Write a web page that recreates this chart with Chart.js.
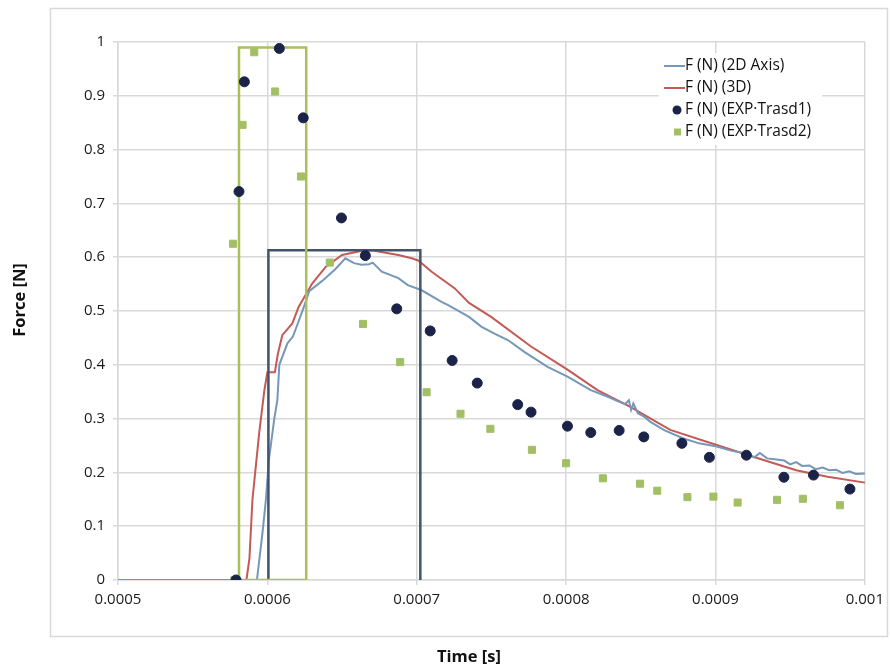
<!DOCTYPE html>
<html>
<head>
<meta charset="utf-8">
<script src="https://cdn.jsdelivr.net/npm/chart.js@4.4.1/dist/chart.umd.min.js"></script>
<style>
  html, body { margin: 0; padding: 0; background: #fff; }
</style>
</head>
<body>
<canvas id="myChart" width="890" height="670"></canvas>
<script>
// simulated 2D axisymmetric force
const time2D = [0.0005, 0.000593, 0.0005967, 0.000599, 0.000601, 0.0006045, 0.0006067, 0.000608, 0.0006134, 0.000617,
  0.00062, 0.0006245, 0.000628, 0.0006367, 0.0006456, 0.0006522, 0.000658, 0.000663, 0.000668, 0.0006705,
  0.0006766, 0.0006877, 0.000694, 0.000703, 0.0007166, 0.000721, 0.000735, 0.0007432, 0.000752, 0.000761,
  0.000772, 0.0007876, 0.0008009, 0.0008165, 0.0008276, 0.000834, 0.0008395, 0.000842, 0.0008435, 0.000845,
  0.000848, 0.000852, 0.0008564, 0.000866, 0.0008786, 0.000889, 0.0009008, 0.000911, 0.000921, 0.000926,
  0.0009297, 0.0009345, 0.0009407, 0.000946, 0.00095, 0.000954, 0.000958, 0.0009629, 0.000967, 0.0009718,
  0.000976, 0.0009807, 0.000985, 0.0009896, 0.000994, 0.001];
const force2D = [0, 0, 0.087, 0.149, 0.223, 0.297, 0.335, 0.40, 0.44, 0.452,
  0.474, 0.508, 0.537, 0.556, 0.578, 0.598, 0.589, 0.586, 0.587, 0.59,
  0.573, 0.561, 0.548, 0.539, 0.517, 0.511, 0.489, 0.471, 0.458, 0.446,
  0.424, 0.396, 0.378, 0.353, 0.341, 0.333, 0.327, 0.334, 0.316, 0.328,
  0.31, 0.304, 0.294, 0.278, 0.263, 0.254, 0.248, 0.24, 0.235, 0.228,
  0.236, 0.226, 0.224, 0.222, 0.215, 0.219, 0.212, 0.213, 0.206, 0.209,
  0.204, 0.205, 0.199, 0.202, 0.197, 0.198];

// simulated 3D force
const time3D = [0.0005, 0.000586, 0.000588, 0.00059, 0.0005945, 0.000598, 0.0006, 0.000605, 0.000607, 0.00061,
  0.0006167, 0.000621, 0.00063, 0.000639, 0.00065, 0.0006633, 0.00067, 0.00068, 0.0006877, 0.0006966,
  0.000701, 0.00071, 0.0007255, 0.000735, 0.0007498, 0.0007765, 0.0008009, 0.000821, 0.000843, 0.000854,
  0.0008697, 0.0009008, 0.0009252, 0.000954, 0.000975, 0.001];
const force3D = [0, 0, 0.04, 0.149, 0.273, 0.353, 0.386, 0.386, 0.42, 0.455,
  0.477, 0.508, 0.551, 0.582, 0.604, 0.612, 0.613, 0.608, 0.604, 0.598,
  0.594, 0.573, 0.542, 0.515, 0.489, 0.434, 0.391, 0.353, 0.322, 0.304,
  0.279, 0.251, 0.229, 0.204, 0.192, 0.181];

// experiment, transducer 1
const timeTrasd1 = [0.000579, 0.000581, 0.0005846, 0.000608, 0.000624, 0.0006496, 0.0006656, 0.0006866, 0.000709, 0.0007237,
  0.0007405, 0.0007676, 0.0007765, 0.0008009, 0.0008165, 0.0008355, 0.000852, 0.0008775, 0.0008959, 0.0009207,
  0.0009458, 0.0009656, 0.00099];
const forceTrasd1 = [0, 0.722, 0.926, 0.988, 0.859, 0.673, 0.603, 0.504, 0.463, 0.408,
  0.366, 0.326, 0.312, 0.286, 0.274, 0.278, 0.266, 0.254, 0.228, 0.232,
  0.191, 0.195, 0.169];

// experiment, transducer 2
const timeTrasd2 = [0.000578, 0.000577, 0.0005834, 0.0005912, 0.0006052, 0.0006225, 0.0006418, 0.000664, 0.0006889, 0.0007066,
  0.0007293, 0.0007493, 0.0007771, 0.0008, 0.0008246, 0.0008495, 0.000861, 0.0008812, 0.0008986, 0.0009148,
  0.0009412, 0.0009585, 0.0009833];
const forceTrasd2 = [0, 0.625, 0.846, 0.981, 0.908, 0.75, 0.59, 0.476, 0.405, 0.349,
  0.309, 0.281, 0.242, 0.217, 0.189, 0.179, 0.166, 0.154, 0.155, 0.144,
  0.149, 0.151, 0.139];

// highlight boxes
const greenBoxTime = [0.000581, 0.000581, 0.000626, 0.000626, 0.000581];
const greenBoxForce = [0, 0.99, 0.99, 0, 0];
const navyBoxTime = [0.0006007, 0.0006007, 0.0007024, 0.0007024, 0.0006007];
const navyBoxForce = [-0.003, 0.613, 0.613, -0.003, -0.003];

const pts = (xs, ys) => xs.map((x, i) => ({ x: x, y: ys[i] }));

const FONT = '"Open Sans", sans-serif';

const framePlugin = {
  id: 'frame',
  beforeDraw(chart) {
    const c = chart.ctx;
    c.save();
    c.strokeStyle = '#d9d9d9';
    c.lineWidth = 1.5;
    c.strokeRect(50.5, 8.5, 837, 628);
    c.restore();
  },
  afterDraw(chart) {
    const c = chart.ctx;
    c.save();
    c.fillStyle = '#111';
    c.font = 'bold 16.5px ' + FONT;
    c.textAlign = 'center';
    c.textBaseline = 'middle';
    c.fillText('Time [s]', 469, 657);
    c.translate(20, 300);
    c.rotate(-Math.PI / 2);
    c.fillText('Force [N]', 0, 0);
    c.restore();

    // legend
    c.save();
    c.fillStyle = '#fff';
    c.fillRect(659, 53, 163, 92);
    c.font = '15.5px ' + FONT;
    c.textBaseline = 'middle';
    c.textAlign = 'left';
    let row = 0;
    chart.data.datasets.forEach(ds => {
      if (!ds.label) return;
      const y = 66 + row * 22;
      if (ds.showLine) {
        c.strokeStyle = ds.borderColor;
        c.lineWidth = 2;
        c.beginPath();
        c.moveTo(664, y);
        c.lineTo(685, y);
        c.stroke();
      } else if (ds.pointStyle === 'rect') {
        c.fillStyle = ds.backgroundColor;
        c.fillRect(674, y - 3.5, 7, 7);
      } else {
        c.fillStyle = ds.backgroundColor;
        c.beginPath();
        c.arc(677, y, 4.5, 0, Math.PI * 2);
        c.fill();
      }
      c.fillStyle = '#111';
      c.fillText(ds.label, 685, y);
      row++;
    });
    c.restore();
  }
};

new Chart(document.getElementById('myChart'), {
  type: 'scatter',
  data: {
    datasets: [
      {
        label: 'F (N) (2D Axis)',
        data: pts(time2D, force2D),
        showLine: true,
        borderColor: '#7697b8',
        borderWidth: 2,
        pointRadius: 0,
        order: 3
      },
      {
        label: 'F (N) (3D)',
        data: pts(time3D, force3D),
        showLine: true,
        borderColor: '#c45a55',
        borderWidth: 2,
        pointRadius: 0,
        order: 4
      },
      {
        label: 'F (N) (EXP·Trasd1)',
        data: pts(timeTrasd1, forceTrasd1),
        backgroundColor: '#1b2448',
        borderColor: '#1b2448',
        pointRadius: 5,
        order: 0
      },
      {
        label: 'F (N) (EXP·Trasd2)',
        data: pts(timeTrasd2, forceTrasd2),
        pointStyle: 'rect',
        backgroundColor: '#a3bf66',
        borderColor: '#a3bf66',
        pointRadius: 5,
        order: 1
      },
      {
        label: '',
        data: pts(greenBoxTime, greenBoxForce),
        showLine: true,
        borderColor: '#a9c05a',
        borderWidth: 2.5,
        pointRadius: 0,
        order: 2
      },
      {
        label: '',
        data: pts(navyBoxTime, navyBoxForce),
        showLine: true,
        borderColor: '#42546b',
        borderWidth: 2.5,
        pointRadius: 0,
        order: 2
      }
    ]
  },
  options: {
    responsive: false,
    animation: false,
    layout: { padding: { left: 0, right: 20, top: 42, bottom: 0 } },
    plugins: {
      legend: { display: false },
      tooltip: { enabled: false }
    },
    scales: {
      x: {
        type: 'linear',
        min: 0.0005,
        max: 0.001,
        afterFit: s => { s.height = 90; },
        ticks: {
          stepSize: 0.0001,
          color: '#1a1a1a',
          padding: 6,
          font: { family: FONT, size: 15 },
          callback: v => String(Number(v.toFixed(4)))
        },
        grid: { color: '#d9d9d9', lineWidth: 1.5, tickLength: 5 },
        border: { color: '#d9d9d9', width: 1.5 }
      },
      y: {
        min: 0,
        max: 1,
        afterFit: s => { s.width = 118; },
        ticks: {
          stepSize: 0.1,
          color: '#1a1a1a',
          padding: 8,
          font: { family: FONT, size: 15 },
          callback: v => String(Number(v.toFixed(1)))
        },
        grid: { color: '#d9d9d9', lineWidth: 1.5, tickLength: 5 },
        border: { color: '#d9d9d9', width: 1.5 }
      }
    }
  },
  plugins: [framePlugin]
});
</script>
</body>
</html>
